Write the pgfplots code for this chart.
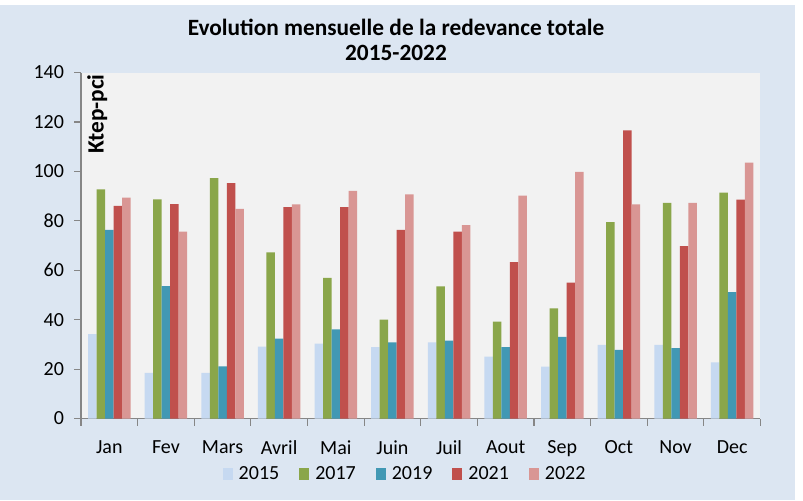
\documentclass[border=0pt]{standalone}
\usepackage{fontspec}
\setmainfont{Carlito}
\usepackage{pgfplots}
\usepackage{pgfplotstable}
\pgfplotsset{compat=1.18}
\definecolor{bgblue}{HTML}{DCE6F2}
\definecolor{plotbg}{HTML}{F2F2F2}
\definecolor{axgray}{HTML}{868686}
\definecolor{c15}{HTML}{C6D9F1}
\definecolor{c17}{HTML}{8AA64A}
\definecolor{c19}{HTML}{4198B4}
\definecolor{c21}{HTML}{C0504D}
\definecolor{c22}{HTML}{D99694}

% monthly values, Ktep-pci
\pgfplotstableread{
m  y15   y17   y19   y21    y22
0  34.2  92.7  76.3  86.0   89.4
1  18.5  88.7  53.6  86.8   75.6
2  18.5  97.3  21.1  95.3   84.8
3  29.1  67.2  32.3  85.5   86.7
4  30.3  56.9  36.1  85.5   92.1
5  28.9  40.0  30.8  76.3   90.7
6  30.8  53.5  31.5  75.6   78.3
7  25.0  39.2  28.9  63.3   90.2
8  21.0  44.6  33.0  55.0   99.8
9  29.8  79.5  27.8  116.6  86.7
10 29.8  87.3  28.5  69.8   87.3
11 22.7  91.4  51.1  88.6   103.5
}\redevance

\begin{document}
\begin{tikzpicture}
\path[use as bounding box] (0,0) rectangle (602.25pt,375pt);
\fill[white] (0,0) rectangle (602.25pt,375pt);
\fill[bgblue] (0,0) rectangle (596.25pt,371.25pt);
\begin{axis}[
  scale only axis,
  width=509.6pt, height=259.5pt,
  at={(60.75pt,61.1pt)}, anchor=south west,
  axis background/.style={fill=plotbg},
  axis x line*=bottom, axis y line*=left,
  axis line style={axgray, line width=0.9pt, -},
  xmin=-0.5, xmax=11.5, ymin=0, ymax=140,
  ytick={0,20,...,140},
  xtick={-0.5,0.5,...,11.5}, xticklabels={},
  extra x ticks={0,...,11},
  extra x tick labels={Jan,Fev,Mars,Avril,Mai,Juin,Juil,Aout,Sep,Oct,Nov,Dec},
  extra x tick style={major tick length=0pt, tick style={draw=none},
    xticklabel style={yshift=-13pt}},
  tick align=outside, major tick length=5.25pt,
  tick style={axgray, line width=0.9pt},
  ticklabel style={font=\fontsize{15}{18}\selectfont, text=black},
  /pgf/number format/assume math mode=true,
  yticklabel style={xshift=-4pt},
  ybar, bar width=0.15,
  legend columns=5,
  legend style={at={(0.477,-0.16)}, anchor=center, draw=none, fill=none,
    font=\fontsize{15}{18}\selectfont,
    /tikz/every odd column/.append style={column sep=3pt},
    /tikz/every even column/.append style={column sep=13.5pt},
    nodes={inner sep=1.5pt}},
  legend image code/.code={\fill[#1] (0pt,-4.5pt) rectangle (7.5pt,4.5pt);},
]
\addplot[fill=c15, draw=none, bar shift=-0.3] table[x=m, y=y15] {\redevance};
\addplot[fill=c17, draw=none, bar shift=-0.15] table[x=m, y=y17] {\redevance};
\addplot[fill=c19, draw=none, bar shift=0] table[x=m, y=y19] {\redevance};
\addplot[fill=c21, draw=none, bar shift=0.15] table[x=m, y=y21] {\redevance};
\addplot[fill=c22, draw=none, bar shift=0.3] table[x=m, y=y22] {\redevance};
\legend{2015,2017,2019,2021,2022}
\end{axis}
\node[font=\fontsize{17.5}{20}\selectfont\bfseries] at (297pt,354.75pt) {Evolution mensuelle de la redevance totale};
\node[font=\fontsize{17.5}{20}\selectfont\bfseries] at (297pt,335.25pt) {2015-2022};
\node[font=\fontsize{17.5}{20}\selectfont\bfseries, rotate=90] at (73pt,289.5pt) {Ktep-pci};
\end{tikzpicture}
\end{document}
